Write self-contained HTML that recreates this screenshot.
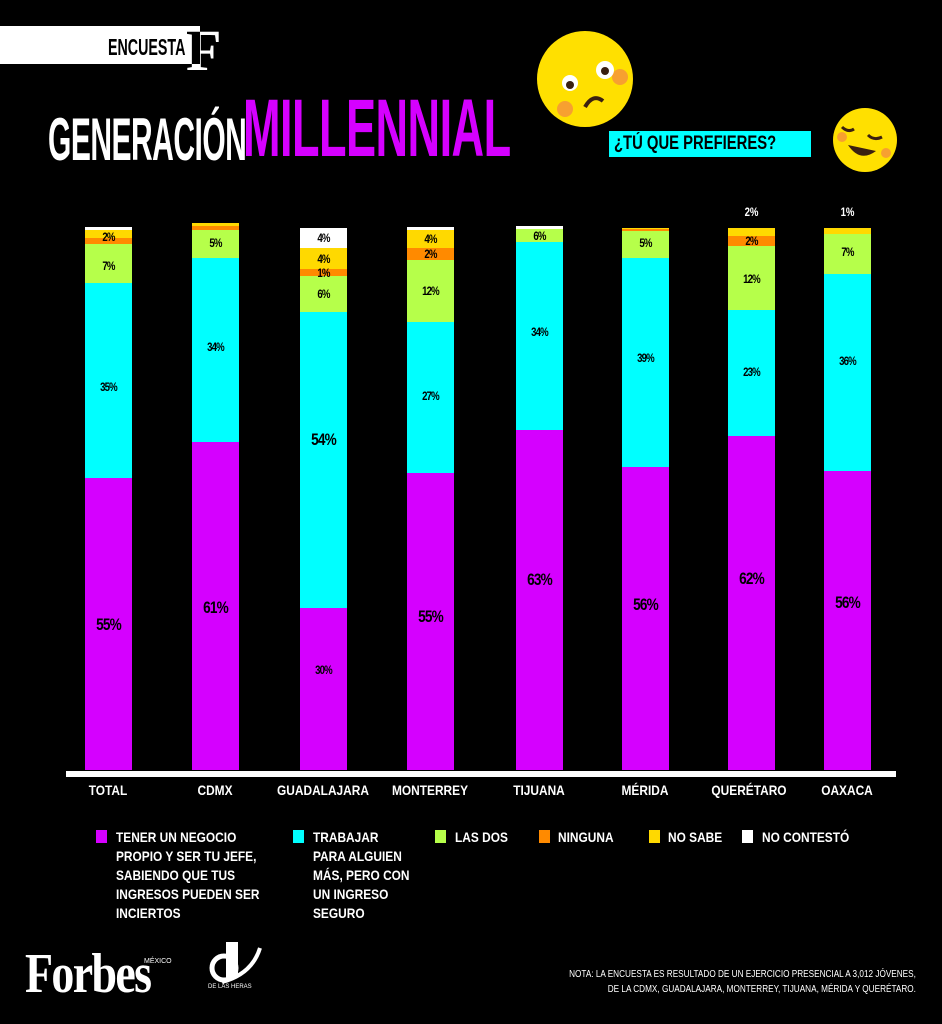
<!DOCTYPE html>
<html><head><meta charset="utf-8"><style>
body{margin:0;width:942px;height:1024px;background:#000;position:relative;overflow:hidden;font-family:"Liberation Sans",sans-serif;}
.a{position:absolute}
.s{position:absolute;width:47px}
.l{position:absolute;width:47px;text-align:center;font-weight:bold;font-size:12px;color:#000;transform:scaleX(.8);letter-spacing:-1px}
.big{font-size:17px}
.m{background:#d500ff}.c{background:#00ffff}.g{background:#b6ff4a}.o{background:#ff8a00}.y{background:#ffd900}.w{background:#fff}
.x{position:absolute;top:782px;color:#fff;font-size:14px;font-weight:bold;width:120px;text-align:center;transform:scaleX(.85)}
.lg{position:absolute;top:828px;color:#fff;font-size:14px;font-weight:bold;line-height:19px;transform-origin:left top;transform:scaleX(.85)}
.sq{position:absolute;top:830px;width:11px;height:13px}
</style></head><body>
<div class="a" style="left:0;top:26px;width:200px;height:38px;background:#fff"></div>
<div class="a" style="left:108px;top:33px;font-size:23px;font-weight:bold;transform:scaleX(.62);transform-origin:left;line-height:28px">ENCUESTA</div>
<div class="a" style="left:186px;top:22px;font-family:'Liberation Serif',serif;font-size:58px;color:#fff;line-height:58px;font-weight:bold">F</div>
<div class="a" style="left:187px;top:26px;width:13px;height:38px;background:#fff;overflow:hidden"><div style="position:absolute;left:-1px;top:-4px;font-family:'Liberation Serif',serif;font-size:58px;color:#000;line-height:58px;font-weight:bold">F</div></div>
<div class="a" style="left:48px;top:110px;color:#fff;font-size:60px;font-weight:bold;transform:scaleX(.5);transform-origin:left;line-height:60px;letter-spacing:-1px">GENERACIÓN</div>
<div class="a" style="left:243px;top:88px;color:#d500ff;font-size:82px;font-weight:bold;transform:scaleX(.55);transform-origin:left;line-height:82px;letter-spacing:-1px">MILLENNIAL</div>
<div class="a" style="left:609px;top:131px;width:202px;height:26px;background:#00ffff"></div>
<div class="a" style="left:614px;top:133px;font-size:19px;font-weight:bold;transform:scaleX(.78);transform-origin:left;white-space:nowrap">¿TÚ QUE PREFIERES?</div>
<svg class="a" style="left:535px;top:27px" width="105" height="105"><circle cx="50" cy="52" r="48" fill="#ffe000"/><circle cx="30" cy="82" r="8" fill="#f7a030"/><circle cx="85" cy="50" r="8" fill="#f7a030"/><circle cx="35" cy="56" r="8" fill="#fff"/><circle cx="35" cy="58" r="4" fill="#3a2010"/><circle cx="70" cy="43" r="9" fill="#fff"/><circle cx="70" cy="44" r="4" fill="#3a2010"/><path d="M50 80 Q58 66 68 74" stroke="#3a2010" stroke-width="4" fill="none"/></svg>
<svg class="a" style="left:830px;top:105px" width="70" height="70"><circle cx="35" cy="35" r="32" fill="#ffe000"/><circle cx="12" cy="32" r="5" fill="#f7a030"/><circle cx="56" cy="48" r="5" fill="#f7a030"/><path d="M12 22 Q18 28 24 24 M38 30 Q44 36 52 32" stroke="#3a2010" stroke-width="3" fill="none"/><path d="M18 40 Q30 58 46 46 Z" fill="#3a2010"/></svg>

<!-- TOTAL -->
<div class="s w" style="left:85px;top:227px;height:3px"></div><div class="s y" style="left:85px;top:230px;height:8px"></div><div class="s o" style="left:85px;top:238px;height:6px"></div><div class="s g" style="left:85px;top:244px;height:39px"></div><div class="s c" style="left:85px;top:283px;height:195px"></div><div class="s m" style="left:85px;top:478px;height:292px"></div>
<div class="l" style="left:85px;top:230px">2%</div><div class="l" style="left:85px;top:259px">7%</div><div class="l" style="left:85px;top:380px">35%</div><div class="l big" style="left:85px;top:615px">55%</div>
<!-- CDMX -->
<div class="s y" style="left:192px;top:223px;height:3px"></div><div class="s o" style="left:192px;top:226px;height:4px"></div><div class="s g" style="left:192px;top:230px;height:28px"></div><div class="s c" style="left:192px;top:258px;height:184px"></div><div class="s m" style="left:192px;top:442px;height:328px"></div>
<div class="l" style="left:192px;top:236px">5%</div><div class="l" style="left:192px;top:340px">34%</div><div class="l big" style="left:192px;top:598px">61%</div>
<!-- GDL -->
<div class="s w" style="left:300px;top:228px;height:20px"></div><div class="s y" style="left:300px;top:248px;height:21px"></div><div class="s o" style="left:300px;top:269px;height:7px"></div><div class="s g" style="left:300px;top:276px;height:36px"></div><div class="s c" style="left:300px;top:312px;height:296px"></div><div class="s m" style="left:300px;top:608px;height:162px"></div>
<div class="l" style="left:300px;top:231px">4%</div><div class="l" style="left:300px;top:252px">4%</div><div class="l" style="left:300px;top:266px">1%</div><div class="l" style="left:300px;top:287px">6%</div><div class="l big" style="left:300px;top:430px">54%</div><div class="l" style="left:300px;top:663px">30%</div>
<!-- MTY -->
<div class="s w" style="left:407px;top:227px;height:3px"></div><div class="s y" style="left:407px;top:230px;height:18px"></div><div class="s o" style="left:407px;top:248px;height:12px"></div><div class="s g" style="left:407px;top:260px;height:62px"></div><div class="s c" style="left:407px;top:322px;height:151px"></div><div class="s m" style="left:407px;top:473px;height:297px"></div>
<div class="l" style="left:407px;top:232px">4%</div><div class="l" style="left:407px;top:247px">2%</div><div class="l" style="left:407px;top:284px">12%</div><div class="l" style="left:407px;top:389px">27%</div><div class="l big" style="left:407px;top:607px">55%</div>
<!-- TIJ -->
<div class="s w" style="left:516px;top:226px;height:3px"></div><div class="s g" style="left:516px;top:229px;height:13px"></div><div class="s c" style="left:516px;top:242px;height:188px"></div><div class="s m" style="left:516px;top:430px;height:340px"></div>
<div class="l" style="left:516px;top:229px">6%</div><div class="l" style="left:516px;top:325px">34%</div><div class="l big" style="left:516px;top:570px">63%</div>
<!-- MER -->
<div class="s y" style="left:622px;top:228px;height:1px"></div><div class="s o" style="left:622px;top:229px;height:2px"></div><div class="s g" style="left:622px;top:231px;height:27px"></div><div class="s c" style="left:622px;top:258px;height:209px"></div><div class="s m" style="left:622px;top:467px;height:303px"></div>
<div class="l" style="left:622px;top:236px">5%</div><div class="l" style="left:622px;top:351px">39%</div><div class="l big" style="left:622px;top:595px">56%</div>
<!-- QRO -->
<div class="s y" style="left:728px;top:228px;height:8px"></div><div class="s o" style="left:728px;top:236px;height:10px"></div><div class="s g" style="left:728px;top:246px;height:64px"></div><div class="s c" style="left:728px;top:310px;height:126px"></div><div class="s m" style="left:728px;top:436px;height:334px"></div>
<div class="a" style="left:728px;top:205px;width:47px;text-align:center;color:#fff;font-size:12px;font-weight:bold;transform:scaleX(.8)">2%</div>
<div class="l" style="left:728px;top:234px">2%</div><div class="l" style="left:728px;top:272px">12%</div><div class="l" style="left:728px;top:365px">23%</div><div class="l big" style="left:728px;top:569px">62%</div>
<!-- OAX -->
<div class="s y" style="left:824px;top:228px;height:6px"></div><div class="s g" style="left:824px;top:234px;height:40px"></div><div class="s c" style="left:824px;top:274px;height:197px"></div><div class="s m" style="left:824px;top:471px;height:299px"></div>
<div class="a" style="left:824px;top:205px;width:47px;text-align:center;color:#fff;font-size:12px;font-weight:bold;transform:scaleX(.8)">1%</div>
<div class="l" style="left:824px;top:245px">7%</div><div class="l" style="left:824px;top:354px">36%</div><div class="l big" style="left:824px;top:593px">56%</div>

<div class="a" style="left:66px;top:771px;width:830px;height:6px;background:#fff"></div>
<div class="x" style="left:48px">TOTAL</div><div class="x" style="left:155px">CDMX</div><div class="x" style="left:263px">GUADALAJARA</div><div class="x" style="left:370px">MONTERREY</div><div class="x" style="left:479px">TIJUANA</div><div class="x" style="left:585px">MÉRIDA</div><div class="x" style="left:689px">QUERÉTARO</div><div class="x" style="left:787px">OAXACA</div>

<div class="sq m" style="left:96px"></div><div class="lg" style="left:116px">TENER UN NEGOCIO<br>PROPIO Y SER TU JEFE,<br>SABIENDO QUE TUS<br>INGRESOS PUEDEN SER<br>INCIERTOS</div>
<div class="sq c" style="left:293px"></div><div class="lg" style="left:313px">TRABAJAR<br>PARA ALGUIEN<br>MÁS, PERO CON<br>UN INGRESO<br>SEGURO</div>
<div class="sq g" style="left:435px"></div><div class="lg" style="left:455px">LAS DOS</div>
<div class="sq o" style="left:539px"></div><div class="lg" style="left:558px">NINGUNA</div>
<div class="sq y" style="left:649px"></div><div class="lg" style="left:668px">NO SABE</div>
<div class="sq w" style="left:742px"></div><div class="lg" style="left:762px">NO CONTESTÓ</div>

<div class="a" style="left:25px;top:944px;font-family:'Liberation Serif',serif;font-weight:bold;font-size:56px;line-height:60px;color:#fff;transform:scaleX(.82);transform-origin:left;letter-spacing:-2px">Forbes</div>
<div class="a" style="left:144px;top:958px;font-size:7px;color:#fff">MÉXICO</div>
<svg class="a" style="left:202px;top:940px" width="62" height="50"><rect x="24" y="2" width="12" height="36" fill="#fff"/><circle cx="22" cy="28" r="12" fill="none" stroke="#fff" stroke-width="5"/><path d="M58 8 Q50 34 20 42" stroke="#fff" stroke-width="4" fill="none"/><text x="6" y="48" font-size="6" fill="#fff" font-family="Liberation Sans">DE LAS HERAS</text></svg>
<div class="a" style="right:26px;top:967px;font-size:10px;color:#fff;text-align:right;line-height:15px;transform:scaleX(.82);transform-origin:right">NOTA: LA ENCUESTA ES RESULTADO DE UN EJERCICIO PRESENCIAL A 3,012 JÓVENES,<br>DE LA CDMX, GUADALAJARA, MONTERREY, TIJUANA, MÉRIDA Y QUERÉTARO.</div>
</body></html>
